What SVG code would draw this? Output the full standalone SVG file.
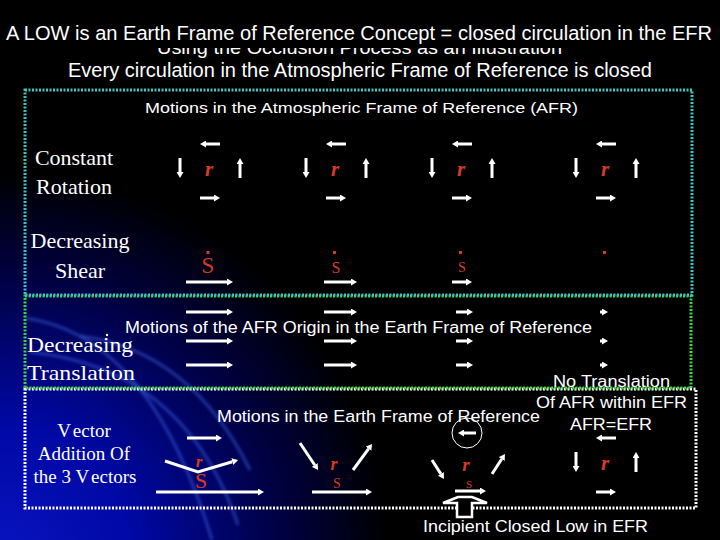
<svg xmlns="http://www.w3.org/2000/svg" xmlns:xlink="http://www.w3.org/1999/xlink" width="720" height="540" viewBox="0 0 720 540">
<style>
.t{font-family:"Liberation Sans",Arial,sans-serif;fill:#fff}
.s{font-family:"Liberation Serif","Times New Roman",serif;fill:#fff}
.r{font-family:"Liberation Serif","Times New Roman",serif;fill:#d83a22;font-style:italic;font-weight:bold}
.sh{font-family:"Liberation Serif","Times New Roman",serif;fill:#d83a22}
.a{stroke:#fff;stroke-width:3;fill:none;marker-end:url(#ah)}
.box{fill:none;stroke-width:3;stroke-dasharray:2 1.5}
.arc{fill:none;stroke:#3a5ad8;stroke-width:3;opacity:0.55}
</style>
<defs>
<radialGradient id="bg" gradientUnits="userSpaceOnUse" cx="0" cy="560" r="390">
<stop offset="0" stop-color="#0814c0"/>
<stop offset="0.35" stop-color="#0008a4"/>
<stop offset="0.7" stop-color="#000148"/>
<stop offset="1" stop-color="#000"/>
</radialGradient>
<filter id="blur"><feGaussianBlur stdDeviation="1.5"/></filter>
<marker id="ah" markerUnits="userSpaceOnUse" viewBox="0 0 6 7" markerWidth="6" markerHeight="7" refX="0" refY="3.5" orient="auto">
<path d="M0,0 L6,3.5 L0,7 z" fill="#fff"/>
</marker>
<g id="rot">
<line class="a" x1="10" y1="144" x2="-4" y2="144"/>
<line class="a" x1="-10" y1="198" x2="4" y2="198"/>
<line class="a" x1="-30" y1="158" x2="-30" y2="172"/>
<line class="a" x1="30" y1="178" x2="30" y2="164"/>
<text class="r" x="-1" y="176" font-size="21" text-anchor="middle">r</text>
</g>
</defs>

<rect width="720" height="540" fill="#000"/>
<rect width="720" height="540" fill="url(#bg)"/>
<g id="arcs" filter="url(#blur)">
<path class="arc" d="M25,318 Q150,335 212,540"/>
<path class="arc" d="M30,352 Q185,368 238,525"/>
<path class="arc" d="M80,336 Q190,350 250,470"/>
</g>

<g id="titles">
<text class="t" x="157" y="54" font-size="19" textLength="405" lengthAdjust="spacingAndGlyphs">Using the Occlusion Process as an Illustration</text>
<rect x="0" y="0" width="720" height="48" fill="#000"/>
<text class="t" x="6" y="40" font-size="20" textLength="706" lengthAdjust="spacingAndGlyphs">A LOW is an Earth Frame of Reference Concept = closed circulation in the EFR</text>
<text class="t" x="68" y="77" font-size="20" textLength="584" lengthAdjust="spacingAndGlyphs">Every circulation in the Atmospheric Frame of Reference is closed</text>
</g>

<g id="boxes">
<rect class="box" x="25" y="389" width="671" height="119" stroke="#fff"/>
<rect class="box" x="25" y="296" width="666" height="92" stroke="#3ed23e"/>
<rect class="box" x="25" y="90" width="667" height="205" stroke="#3cc4c4"/>
</g>

<g id="afr">
<text class="t" x="145" y="113" font-size="15.5" textLength="433" lengthAdjust="spacingAndGlyphs">Motions in the Atmospheric Frame of Reference (AFR)</text>
<text class="s" x="74" y="165" font-size="22" text-anchor="middle">Constant</text>
<text class="s" x="74" y="194" font-size="22" text-anchor="middle">Rotation</text>
<text class="s" x="80" y="248" font-size="22" text-anchor="middle">Decreasing</text>
<text class="s" x="80" y="278" font-size="22" text-anchor="middle">Shear</text>
<g id="rotation">
<use xlink:href="#rot" x="210"/>
<use xlink:href="#rot" x="336"/>
<use xlink:href="#rot" x="462"/>
<use xlink:href="#rot" x="606"/>
</g>
<g id="shear">
<rect x="206.5" y="251" width="3" height="3" fill="#d83a22"/>
<text class="sh" x="208" y="273" font-size="23" text-anchor="middle">S</text>
<rect x="333" y="251" width="3" height="3" fill="#d83a22"/>
<text class="sh" x="336" y="273" font-size="16" text-anchor="middle">S</text>
<rect x="459" y="251" width="3" height="3" fill="#d83a22"/>
<text class="sh" x="462" y="272" font-size="14" text-anchor="middle">S</text>
<rect x="603" y="251" width="3" height="3" fill="#d83a22"/>
<line class="a" x1="186" y1="282" x2="227" y2="282"/>
<line class="a" x1="324" y1="282" x2="351" y2="282"/>
<line class="a" x1="452" y1="282" x2="466" y2="282"/>
</g>
</g>

<g id="translation">
<text class="t" x="125" y="333" font-size="16" textLength="467" lengthAdjust="spacingAndGlyphs">Motions of the AFR Origin in the Earth Frame of Reference</text>
<circle cx="107" cy="335" r="1.2" fill="#fff"/>
<text class="s" x="27" y="352" font-size="22" textLength="106" lengthAdjust="spacingAndGlyphs">Decreasing</text>
<text class="s" x="27" y="380" font-size="22" textLength="108" lengthAdjust="spacingAndGlyphs">Translation</text>
<line class="a" x1="186" y1="312" x2="227" y2="312"/>
<line class="a" x1="186" y1="341" x2="227" y2="341"/>
<line class="a" x1="186" y1="365" x2="227" y2="365"/>
<line class="a" x1="324" y1="312" x2="351" y2="312"/>
<line class="a" x1="324" y1="341" x2="351" y2="341"/>
<line class="a" x1="324" y1="365" x2="351" y2="365"/>
<line class="a" x1="456" y1="312" x2="467" y2="312"/>
<line class="a" x1="456" y1="341" x2="467" y2="341"/>
<line class="a" x1="456" y1="365" x2="467" y2="365"/>
<line class="a" x1="600" y1="312" x2="602" y2="312"/>
<line class="a" x1="600" y1="341" x2="602" y2="341"/>
<line class="a" x1="600" y1="365" x2="602" y2="365"/>
<text class="t" x="553" y="387" font-size="16" textLength="117" lengthAdjust="spacingAndGlyphs">No Translation</text>
<text class="t" x="536" y="408" font-size="16" textLength="151" lengthAdjust="spacingAndGlyphs">Of AFR within EFR</text>
</g>

<g id="efr">
<text class="t" x="217" y="422" font-size="16" textLength="323" lengthAdjust="spacingAndGlyphs">Motions in the Earth Frame of Reference</text>
<text class="t" x="570" y="430" font-size="16" textLength="82" lengthAdjust="spacingAndGlyphs">AFR=EFR</text>
<text class="s" x="84" y="437" font-size="19" text-anchor="middle">V<tspan dx="4">ector</tspan></text>
<text class="s" x="84" y="460" font-size="19" text-anchor="middle">Addition Of</text>
<text class="s" x="85" y="483" font-size="19" text-anchor="middle">the 3 V<tspan dx="4">ectors</tspan></text>

<g id="sum1">
<line class="a" x1="187" y1="438" x2="216" y2="438"/>
<path class="a" d="M165,461 L198,472 L232.3,461.7"/>
<line class="a" x1="156" y1="492" x2="258" y2="492"/>
<text class="r" x="199" y="467" font-size="17" text-anchor="middle">r</text>
<text class="sh" x="201" y="488" font-size="22" text-anchor="middle" fill="#c83a4a">S</text>
</g>
<g id="sum2">
<line class="a" x1="300" y1="443" x2="314.7" y2="465"/>
<line class="a" x1="353" y1="470" x2="368.5" y2="448.8"/>
<line class="a" x1="312" y1="492" x2="366" y2="492"/>
<text class="r" x="334" y="470" font-size="18" text-anchor="middle">r</text>
<text class="sh" x="337" y="488" font-size="14" text-anchor="middle">S</text>
</g>
<g id="sum3">
<circle cx="467" cy="433" r="15" fill="none" stroke="#fff" stroke-width="1"/>
<line class="a" x1="476" y1="433" x2="464" y2="433"/>
<line class="a" x1="432" y1="460" x2="440.8" y2="473.9"/>
<line class="a" x1="492" y1="474" x2="501.7" y2="459"/>
<line class="a" x1="455" y1="491" x2="480" y2="491"/>
<text class="r" x="466" y="471" font-size="19" text-anchor="middle">r</text>
<text class="sh" x="469" y="488" font-size="11" text-anchor="middle">S</text>
</g>
<g id="sum4">
<use xlink:href="#rot" x="606" y="294"/>
</g>
</g>

<g id="low">
<path d="M457,517 L457,503 L443,503 L458,497 L472,497 L487,503 L472,503 L472,517 Z" fill="#000" stroke="#fff" stroke-width="2.5" stroke-linejoin="miter"/>
<text class="t" x="423" y="532" font-size="16" textLength="225" lengthAdjust="spacingAndGlyphs">Incipient Closed Low in EFR</text>
</g>
</svg>
